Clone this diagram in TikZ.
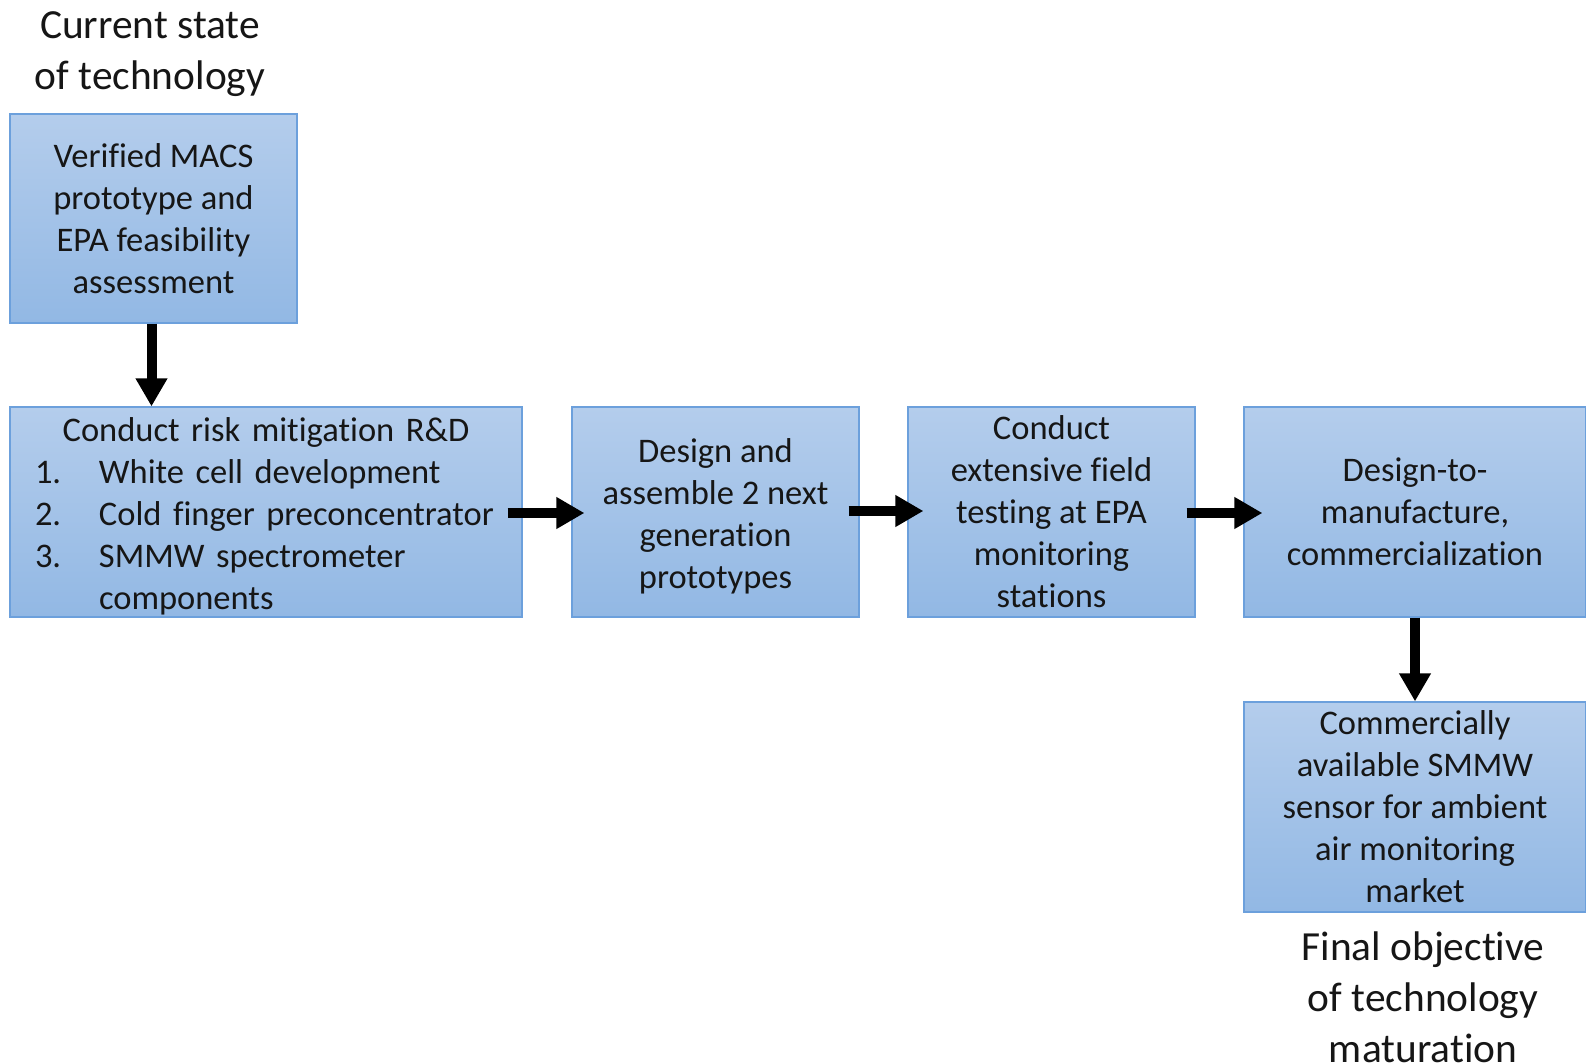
\documentclass[tikz,border=0pt]{standalone}
\usepackage{fontspec}
\setmainfont[Ligatures=CommonOff]{Carlito}
\usetikzlibrary{arrows.meta}
\definecolor{boxtop}{RGB}{180,205,236}
\definecolor{boxbot}{RGB}{146,184,228}
\definecolor{boxedge}{RGB}{108,160,220}
\definecolor{txt}{RGB}{22,22,22}
\newcommand{\topstrut}{\rule{0pt}{32pt}}
\begin{document}
\begin{tikzpicture}[x=1pt,y=-1pt,
  stepbox/.style={draw=boxedge, line width=1.2pt, top color=boxtop, bottom color=boxbot,
    inner sep=0pt, align=center, text=txt, font=\fontsize{34.5}{42}\selectfont,
    minimum height=210pt},
  lbl/.style={align=center, text=txt, inner sep=0pt, font=\fontsize{41.4}{51}\selectfont},
  flow/.style={line width=10pt, -{Triangle[width=30pt,length=28pt]}}]
\useasboundingbox (0,0) rectangle (1586,1064);
\fill[white] (0,0) rectangle (1586,1064);

\node[lbl] (lab1) at (150,54) {Current state\\of technology};

\node[stepbox, minimum width=287pt, minimum height=209pt] (b1) at (153.5,218.5)
  {Verified MACS\\prototype and\\EPA feasibility\\assessment};

\node[stepbox, text width=462pt, inner xsep=25pt, align=left] (b2) at (266,512)
  {\topstrut\makebox[462pt][c]{Conduct risk mitigation R\&D}\\
   \makebox[64pt][l]{1.}White cell development\\
   \makebox[64pt][l]{2.}Cold finger preconcentrator\\
   \makebox[64pt][l]{3.}SMMW spectrometer\\
   \hspace*{64pt}components};

\node[stepbox, minimum width=287pt] (b3) at (715.5,512)
  {\topstrut Design and\\assemble 2 next\\generation\\prototypes};

\node[stepbox, minimum width=287pt] (b4) at (1051.5,512)
  {Conduct\\extensive field\\testing at EPA\\monitoring\\stations};

\node[stepbox, minimum width=342pt] (b5) at (1415,512)
  {Design-to-\\manufacture,\\commercialization};

\node[stepbox, minimum width=342pt] (b6) at (1415,807)
  {Commercially\\available SMMW\\sensor for ambient\\air monitoring\\market};

\node[lbl] (lab2) at (1423,997) {Final objective\\of technology\\maturation};

\draw[flow] ([xshift=-2pt]b1.south) -- ([xshift=-2pt]b1.south |- b2.north);
\draw[flow] ([xshift=-15pt,yshift=-1pt]b2.east) -- ([xshift=13pt,yshift=-1pt]b3.west);
\draw[flow] ([xshift=-11pt,yshift=1pt]b3.east) -- ([xshift=16pt,yshift=1pt]b4.west);
\draw[flow] ([xshift=-9pt,yshift=-1pt]b4.east) -- ([xshift=19pt,yshift=-1pt]b5.west);
\draw[flow] (b5.south) -- (b6.north);
\end{tikzpicture}
\end{document}
